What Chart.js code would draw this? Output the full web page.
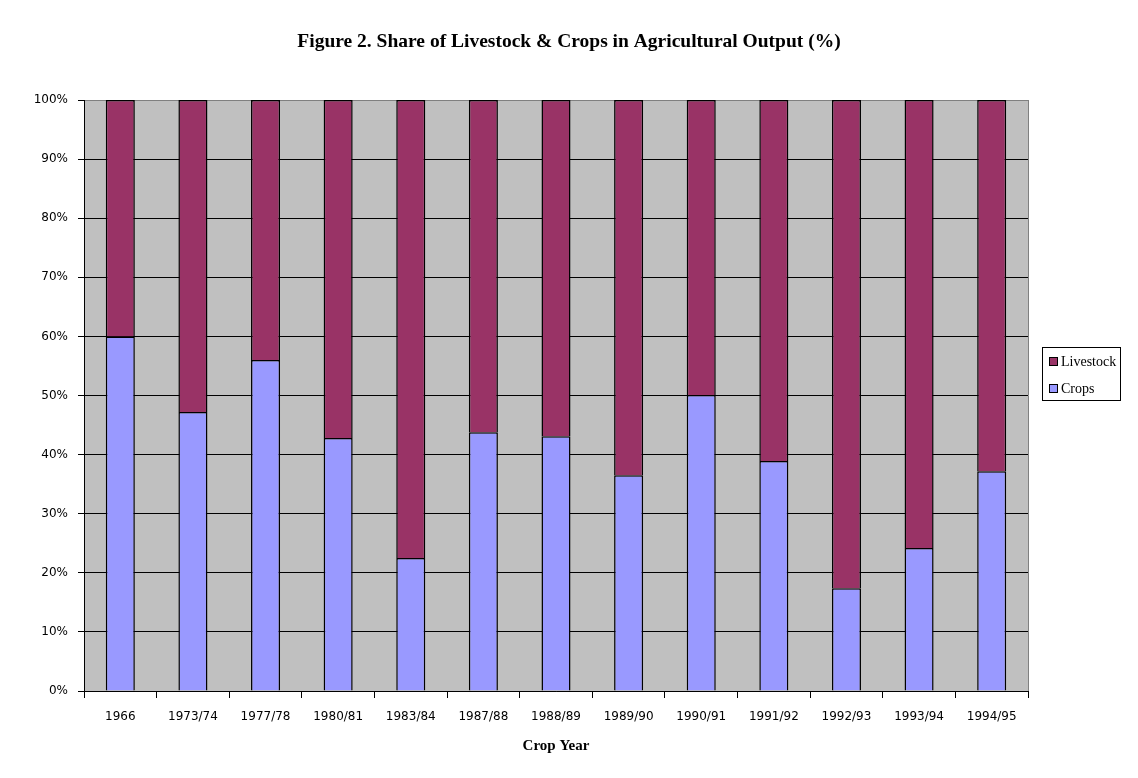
<!DOCTYPE html>
<html>
<head>
<meta charset="utf-8">
<script src="https://cdn.jsdelivr.net/npm/chart.js@4"></script>
<style>
  body { margin: 0; background: #fff; }
  #wrap { width: 1138px; height: 778px; }
</style>
</head>
<body>
<div id="wrap"><canvas id="shareChart" width="1138" height="778"></canvas></div>
<script>
const years = ["1966", "1973/74", "1977/78", "1980/81", "1983/84", "1987/88", "1988/89",
  "1989/90", "1990/91", "1991/92", "1992/93", "1993/94", "1994/95"];
const crops = [60, 47.2, 56, 42.8, 22.5, 43.8, 43.1, 36.5, 50.1, 38.9, 17.4, 24.2, 37.2];
const livestock = crops.map((c) => +(100 - c).toFixed(1));
const yTicks = [0, 10, 20, 30, 40, 50, 60, 70, 80, 90, 100];

const chartTitle = "Figure 2. Share of Livestock & Crops in Agricultural Output (%)";

// grey plot background + title + right border + legend box
const decor = {
  id: "decor",
  beforeDraw(chart) {
    const { ctx, chartArea: a } = chart;
    ctx.save();
    ctx.fillStyle = "#c0c0c0";
    ctx.fillRect(a.left, a.top, a.right - a.left, a.bottom - a.top);
    ctx.restore();
  },
  afterDraw(chart) {
    const { ctx, chartArea: a } = chart;
    ctx.save();
    ctx.strokeStyle = "#808080";
    ctx.lineWidth = 1;
    ctx.beginPath();
    ctx.moveTo(a.right + 0.5, a.top);
    ctx.lineTo(a.right + 0.5, a.bottom);
    ctx.stroke();

    ctx.fillStyle = "#000";
    ctx.font = "bold 19.5px 'Liberation Serif', serif";
    ctx.textAlign = "center";
    ctx.textBaseline = "middle";
    ctx.fillText(chartTitle, 569, 42);

    // legend
    ctx.fillStyle = "#fff";
    ctx.fillRect(1042, 347, 78, 53);
    ctx.strokeStyle = "#000";
    ctx.strokeRect(1042.5, 347.5, 78, 53);
    const items = [chart.data.datasets[1], chart.data.datasets[0]];
    ctx.font = "14px 'Liberation Serif', serif";
    ctx.textAlign = "left";
    items.forEach((ds, i) => {
      const y = 362 + i * 27;
      ctx.fillStyle = ds.backgroundColor;
      ctx.fillRect(1049, y - 4, 8, 8);
      ctx.strokeStyle = "#000";
      ctx.strokeRect(1049.5, y - 4.5, 8, 8);
      ctx.fillStyle = "#000";
      ctx.fillText(ds.label, 1061, y);
    });
    ctx.restore();
  },
};

new Chart(document.getElementById("shareChart"), {
  type: "bar",
  data: {
    labels: years,
    datasets: [
      {
        label: "Crops",
        data: crops,
        backgroundColor: "#9999ff",
        borderColor: "#000",
        borderWidth: 1.5,
        barPercentage: 0.4,
        categoryPercentage: 1,
      },
      {
        label: "Livestock",
        data: livestock,
        backgroundColor: "#993366",
        borderColor: "#000",
        borderWidth: 1.5,
        barPercentage: 0.4,
        categoryPercentage: 1,
      },
    ],
  },
  options: {
    responsive: false,
    animation: false,
    layout: { padding: { top: 100, right: 110, bottom: 19, left: 0 } },
    plugins: {
      legend: { display: false },
      tooltip: { enabled: false },
    },
    scales: {
      x: {
        stacked: true,
        grid: { drawOnChartArea: false, color: "#000", tickLength: 7 },
        border: { color: "#000" },
        ticks: {
          color: "#000",
          font: { family: "'DejaVu Sans', sans-serif", size: 12 },
          padding: 12,
          maxRotation: 0,
        },
        title: {
          display: true,
          text: "Crop Year",
          color: "#000",
          font: { family: "'Liberation Serif', serif", size: 15, weight: "bold" },
          padding: { top: 0 },
        },
        afterFit(scale) { scale.height = 68; },
      },
      y: {
        stacked: true,
        min: 0,
        max: 100,
        afterBuildTicks(scale) { scale.ticks = yTicks.map((v) => ({ value: v })); },
        grid: {
          color: (c) => (c.tick && c.tick.value === 100 ? "#808080" : "#000"),
          tickColor: "#000",
          tickLength: 6,
        },
        border: { color: "#000" },
        ticks: {
          color: "#000",
          font: { family: "'DejaVu Sans', sans-serif", size: 12 },
          padding: 10,
          callback: (v) => v + "%",
        },
        afterFit(scale) { scale.width = 84; },
      },
    },
  },
  plugins: [decor],
});
</script>
</body>
</html>
